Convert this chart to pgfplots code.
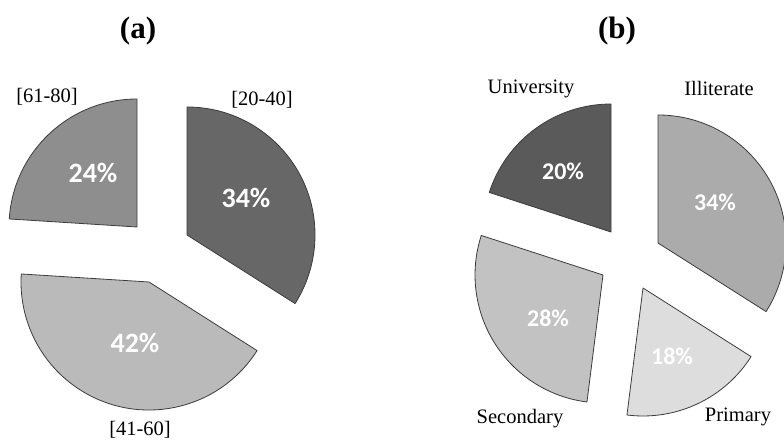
\documentclass[border=0pt]{standalone}
\usepackage{pgfplots}
\pgfplotsset{compat=1.18}
\usepackage{fontspec}
\setmainfont{Liberation Serif}
\newfontfamily\carlito{Carlito}
\definecolor{edge}{HTML}{3C3C3C}
\definecolor{aA}{HTML}{676767}
\definecolor{aB}{HTML}{BABABA}
\definecolor{aC}{HTML}{8E8E8E}
\definecolor{bA}{HTML}{ABABAB}
\definecolor{bB}{HTML}{DDDDDD}
\definecolor{bC}{HTML}{C2C2C2}
\definecolor{bD}{HTML}{5A5A5A}
% #1,#2 slice vertex; #3 cumulative percent before slice; #4 percent; #5 colour
\newcommand{\slice}[5]{%
  \filldraw[fill=#5,draw=edge,line width=0.8pt,line join=round]
    (axis cs:#1,#2) -- ++({90-3.6*(#3)}:128pt)
    arc[start angle={90-3.6*(#3)},end angle={90-3.6*(#3+#4)},radius=128pt] -- cycle;}
\newcommand{\pct}[4]{\node[text=white,font=\carlito\bfseries\fontsize{#4}{#4}\selectfont] at (axis cs:#1,#2) {#3\%};}
\newcommand{\lab}[3]{\node[font=\fontsize{20.5}{21}\selectfont] at (axis cs:#1,#2) {#3};}
\begin{document}
\begin{tikzpicture}
\begin{axis}[width=784pt,height=439pt,scale only axis,hide axis,
  xmin=0,xmax=784,ymin=0,ymax=439,clip=false]
\coordinate (ll) at (axis cs:0,0);
\coordinate (ur) at (axis cs:784,439);
% (a) age groups: [20-40] 34, [41-60] 42, [61-80] 24
\slice{187}{204}{0}{34}{aA}
\slice{149}{157}{34}{42}{aB}
\slice{137}{212}{76}{24}{aC}
% (b) education: Illiterate 34, Primary 18, Secondary 28, University 20
\slice{658}{196}{0}{34}{bA}
\slice{643}{151}{34}{18}{bB}
\slice{603}{164}{52}{28}{bC}
\slice{611}{207}{80}{20}{bD}
% percentages
\pct{246}{241}{34}{28}
\pct{135}{96}{42}{28}
\pct{93}{266}{24}{28}
\pct{715}{237}{34}{24}
\pct{672}{83}{18}{24}
\pct{548}{121}{28}{24}
\pct{563}{268}{20}{24}
% category labels
\lab{262}{339}{[20-40]}
\lab{140}{9}{[41-60]}
\lab{47}{342}{[61-80]}
\lab{719}{351}{Illiterate}
\lab{738}{22}{Primary}
\lab{520}{20}{Secondary}
\lab{531}{350}{University}
% titles
\node[font=\bfseries\fontsize{31}{31}\selectfont] at (axis cs:138,408) {(a)};
\node[font=\bfseries\fontsize{31}{31}\selectfont] at (axis cs:617,408) {(b)};
\end{axis}
\pgfresetboundingbox
\path (ll) rectangle (ur);
\end{tikzpicture}
\end{document}
